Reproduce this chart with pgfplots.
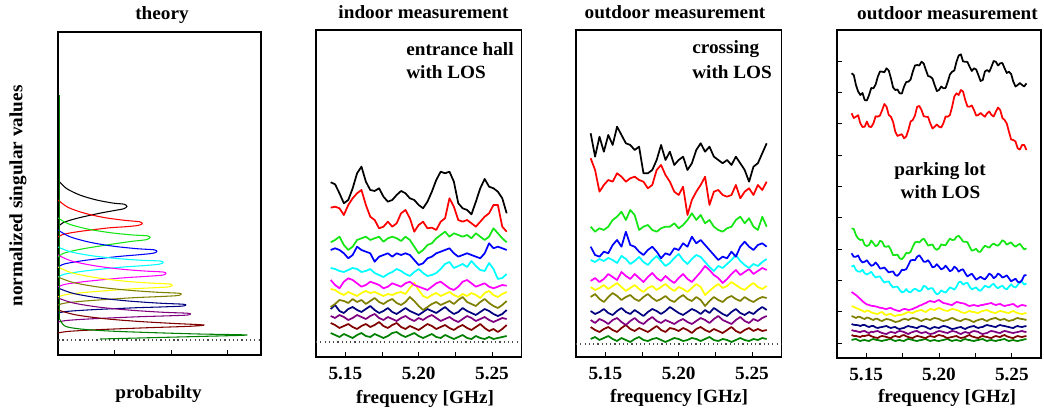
\documentclass[border=0pt]{standalone}
\usepackage{fontspec}
\setmainfont{Liberation Serif}[FakeStretch=1.03]
\usepackage{pgfplots}
\pgfplotsset{compat=1.18}
\usepackage{pgfplotstable}

\definecolor{cK}{RGB}{0,0,0}
\definecolor{cR}{RGB}{255,0,0}
\definecolor{cG}{RGB}{20,230,20}
\definecolor{cB}{RGB}{0,0,255}
\definecolor{cC}{RGB}{0,255,255}
\definecolor{cM}{RGB}{255,0,255}
\definecolor{cY}{RGB}{255,255,0}
\definecolor{cO}{RGB}{128,128,0}
\definecolor{cN}{RGB}{0,0,128}
\definecolor{cP}{RGB}{128,0,128}
\definecolor{cW}{RGB}{128,0,0}
\definecolor{cD}{RGB}{0,128,0}

\newcommand\lbl{\fontsize{14}{16}\selectfont\bfseries}

\pgfplotstableread{
x blk red grn blu cya mag yel oli nav pur mar dgr
5.140 159.7 134.3 99.7 92 74 62 53 35 33 26 19 9
5.143 157.7 135.3 102 93.7 73 57 52 38 37 24 17 7
5.146 148.7 133.7 105.3 92 71 53.7 49 42 31 27 14 5
5.149 138.7 127 97 88.7 70 60.3 47 41 29 25 16 8
5.152 142 137 92 83.7 72 63.7 50 39 33 22 18 6
5.155 153.7 143.7 95.3 87 74 62 48 43 35 24 15 4
5.158 168.7 148.7 102 95.3 73 58.7 46 40 32 27 13 7
5.161 175.3 152 103.7 92 70 55.3 49 42 30 25 16 9
5.164 160.3 137 105.3 90.3 71 57 51 38 33 23 18 6
5.167 152 125.3 102 88.7 73 60.3 49 41 36 26 15 5
5.170 151 122 103.7 80.3 69 58.7 50 44 32 28 17 8
5.173 153.7 113.7 105.3 85.3 67 57 48 40 29 24 20 6
5.176 145.3 115.3 100.3 87 65 53.7 46 38 31 22 16 4
5.179 140.3 120.3 103.7 88.7 68 55.3 48 41 34 25 14 6
5.182 142 115.3 105.3 85.3 70 58.7 47 43 30 23 17 9
5.185 147 118.7 103.7 88.7 73 57 49 39 28 21 19 10
5.188 151 128.7 101 87 71 55.3 50 37 31 24 15 7
5.191 148.7 132 105.3 88.7 68 58.7 48 40 34 26 13 5
5.194 143.7 123.7 102 87 66 60.3 54 45 31 23 16 7
5.197 142 110.3 95.3 82 70 57 59 41 29 21 14 9
5.200 137 117 88.7 77 73 55.3 52 36 27 24 12 6
5.203 133.7 120.3 92 78.7 69 53.7 46 32 30 22 15 4
5.206 140.3 113.7 97 83.7 66 52 44 35 33 25 18 6
5.209 150.3 114.3 98.7 85.3 67 55.3 47 38 31 27 16 8
5.212 162 112 103.7 88.7 69 58.7 49 40 29 24 13 5
5.215 170.3 120.3 107 90.3 73 60.3 46 37 32 21 15 4
5.218 168.7 123.7 110.3 92 78 57 48 39 35 23 17 7
5.221 170.3 143.7 105.3 93.7 80 53.7 50 41 31 25 14 5
5.224 160.3 135.3 108.7 88.7 74 52 47 38 28 22 12 3
5.227 138.7 122 107 85.3 76 55.3 45 42 30 20 15 5
5.230 133.7 120.3 105.3 87 78 60.3 48 45 34 23 17 7
5.233 132 122 107 88.7 75 62 46 40 31 26 14 4
5.236 127.7 118.7 103.7 87 81 58.7 49 38 29 24 12 3
5.239 140.3 115.3 108.7 85.3 76 55.3 47 36 27 21 15 6
5.242 153.7 120.3 105.3 83.7 72 57 44 40 30 23 18 4
5.245 163 125.3 102 88.7 71 58.7 49 43 33 25 14 3
5.248 155.3 128.7 105.3 98.7 79 55.3 51 39 31 22 11 5
5.251 153.7 137 113.7 93.7 73 53.7 47 36 28 20 13 3
5.254 150.3 137 108.7 95.3 63 55.3 45 34 26 22 10 4
5.257 143.7 115.3 103.7 93.7 64 57 48 37 28 24 13 5
5.260 128.7 110.3 99.7 92 68 56.3 50 41 32 23 17 6
}\indoor

\pgfplotstableread{
x blk red grn blu cya mag yel oli nav pur mar dgr
5.140 210.7 185.7 117.3 97.3 84 63 57 47 33 24 17 5
5.143 187.3 174 112.3 89 82 66 54 50 30 21 14 7
5.146 207.3 152.3 115.7 87.3 85 62 56 45 32 25 12 4
5.149 192.3 159 114 92.3 83 65 59 42 35 23 15 6
5.152 209 164 117.3 90.7 86 70 55 47 31 20 17 8
5.155 199 162.3 124 99 84 67 58 51 29 24 14 5
5.158 217.3 170.7 127.3 104 81 64 61 48 33 26 12 3
5.161 209 167.3 132.3 97.3 88 72 57 44 36 22 16 6
5.164 200.7 162.3 124 112.3 85 68 53 47 32 19 19 4
5.167 199 165.7 134 99 80 65 56 49 30 23 15 2
5.170 194 167.3 129 97.3 83 70 59 45 34 26 13 5
5.173 197.3 164 114 92.3 87 66 55 43 31 22 16 7
5.176 170.7 162.3 117.3 89 82 62 52 47 28 20 14 4
5.179 170.7 155.7 119 94 79 67 56 50 32 24 12 3
5.182 174 159 114 97.3 84 71 58 46 35 27 15 5
5.185 184 174 112.3 92.3 88 66 54 43 33 23 18 6
5.188 199 179 115.7 85.7 83 63 57 45 30 21 14 4
5.191 184 169 117.3 90.7 78 68 60 48 33 24 12 2
5.194 192.3 162.3 117.3 89 81 64 56 44 37 22 16 4
5.197 179 152.3 120.7 95.7 86 61 53 42 34 20 15 6
5.200 184 149 115.7 94 90 66 57 46 31 23 13 5
5.203 187.3 157.3 119 100.7 84 70 55 49 29 25 16 3
5.206 174 129 124 97.3 80 65 52 45 32 22 14 4
5.209 180.7 144 130.7 107.3 85 62 56 43 35 20 11 6
5.212 194 152.3 124 100.7 89 67 60 47 33 23 15 5
5.215 200.7 159 129 104 87 72 57 44 30 26 17 3
5.218 192.3 167.3 120.7 99 82 78 49 38 34 24 14 5
5.221 197.3 139 124 94 77 74 53 43 31 21 12 7
5.224 187.3 152.3 117.3 89 73 69 57 47 36 25 15 4
5.227 184 154 114 84 78 66 60 44 33 28 13 3
5.230 180.7 149 112.3 87.3 76 61 56 42 30 24 11 5
5.233 184 147.3 115.7 85.7 80 65 58 46 28 22 14 4
5.236 179 149 117.3 92.3 84 70 62 48 32 20 17 2
5.239 187.3 159 124 87.3 89 74 59 45 35 24 13 4
5.242 180.7 145.7 127.3 97.3 83 69 56 43 31 27 11 6
5.245 174 152.3 120.7 102.3 79 72 54 47 29 23 14 4
5.248 162.3 155.7 125.7 97.3 76 75 58 44 32 21 16 3
5.251 177.3 149 117.3 94 80 70 61 42 30 25 13 5
5.254 180.7 159 114 99 78 73 57 45 34 23 15 4
5.257 190.7 154 127.3 100.7 82 76 55 47 37 26 13 6
5.260 200.7 162.3 117.3 97.3 85 74 58 46 34 28 14 5
}\crossing

\pgfplotstableread{
x blk red grn blu cya mag yel oli nav pur mar dgr
5.140 269.7 229.7 114.7 89.7 76.3 51 37 27 19 13 8 3
5.1415 268 225 114 86.2 77.5 49.5 36.2 26.1 18.2 12.2 7.1 3.6
5.143 258 226.3 108 86.3 73 48 35 25 18 12 7 4
5.1445 251.5 227.8 104.5 87.5 71.5 46 34.3 26.3 17.8 11.2 6.5 2.8
5.146 248 219.7 103 83 71.3 44 33 26 17 11 6 2
5.1475 250 216 103.5 80.5 73.2 41.8 32.3 24.7 17.9 11.8 7.2 2.7
5.149 243 216.3 98 81.3 69.7 40 31 24 18 12 7 3
5.1505 242.5 221.5 97 82.8 68.5 38.6 32.5 25.5 16.8 10.8 7.6 2.4
5.152 248 216.3 98 79.7 69.7 38 32 25 16 10 8 2
5.1535 255 216 102.5 77.2 71.2 37.2 30.6 23.8 16.9 11.2 6.8 3.3
5.155 254.7 219.7 99.7 78 68 37 30 23 17 11 6 4
5.1565 258.5 226.8 96.8 80.5 65.5 36.6 29.3 24.4 15.6 11.7 5.4 3.2
5.158 266.3 226.3 98 78 66.3 36 29 24 15 12 5 3
5.1595 271.5 227.5 102.2 74.5 66.5 35.2 30.4 22.6 15.7 10.8 6.4 2.4
5.161 271.3 233 101.3 74.7 63 35 31 22 16 10 7 2
5.1625 270.8 239 96.5 75.5 60.5 34.3 28.7 23.3 16.6 9.4 6.6 2.8
5.164 274.7 236.3 96.3 73 61.3 34 28 24 17 9 6 3
5.1655 272.5 228 97 70.6 61.5 34.8 28.8 23.6 15.8 10.3 5.3 3.7
5.167 264.7 226.3 93 71.3 58 35 29 23 15 11 5 4
5.1685 255.5 221 87.8 71.5 55.5 33.8 27.6 22 15.7 10.6 6.4 2.8
5.170 253 211.3 88 68 56.3 33 27 21 16 10 7 2
5.1715 253.5 207 88.4 67.2 56.3 32.3 27.8 21.4 14.6 11.3 6.3 2.6
5.173 249.7 208 84.7 69.7 53 32 28 22 14 12 6 3
5.1745 249.5 208.8 83.8 73.2 50.7 33.2 28.3 23.3 14.7 11.6 7.4 2.3
5.176 256.3 204.7 86.3 73 51.3 34 29 24 15 11 8 2
5.1775 261 206.5 90.2 73.8 53.9 33.8 30.2 23.8 16.3 9.8 6.7 3.3
5.179 261.3 213 89.7 78 51.3 33 31 23 17 9 6 4
5.1805 263.5 221.5 91.2 82.6 50.6 33.5 30.4 24.3 16.3 10.3 5.3 3.6
5.182 271.3 223 96.3 83 53 34 30 25 16 11 5 3
5.1835 277.5 227.5 100.6 82.8 54.4 35.2 31.3 24.6 15.3 11.8 6.3 2.4
5.185 278 236.3 101.3 86.3 53 36 32 24 15 12 7 2
5.1865 277.5 237 100.5 87.7 51.6 37.3 32.6 22.8 16.3 10.7 6.6 2.7
5.188 281.3 233 103 84.7 53 38 33 22 17 10 6 3
5.1895 279.5 226.8 104.4 81.3 57.2 39.2 31.7 23.2 16.7 10.5 5.3 3.6
5.191 273 226.3 101.3 81.3 56.3 40 31 24 16 11 5 4
5.1925 267 226 97.4 82.8 53.6 41.3 32.7 23.6 14.8 9.7 6.3 2.8
5.194 266.3 219.7 98 79.7 54.7 42 34 23 14 9 7 2
5.1955 264.5 214.5 98.6 75.6 54.8 41.4 33.6 24.3 15.3 9.4 6.4 2.6
5.197 258 216.3 94.7 76.3 51.3 41 33 25 16 10 6 3
5.1985 252 218.5 93.2 78.8 48.6 42.2 34.3 24.5 15.4 11.3 7.3 2.3
5.200 253 216.3 94.7 76.3 49.7 43 35 24 15 12 8 2
5.2015 256.5 215.5 98.6 73.7 52.7 41.4 34.2 22.7 16.3 11.6 7.4 2.6
5.203 254.7 219.7 98 74.7 51.3 40 33 22 17 11 7 3
5.2045 255 226.5 97.8 77.3 50.4 39.6 32.4 22.6 16.7 10.4 5.7 3.6
5.206 261.3 226.3 101.3 74.7 53 39 32 23 16 10 5 4
5.2075 268.5 228 104.4 71.7 55.6 38.3 33.2 24.3 14.8 11.2 5.6 2.8
5.209 271.3 236.3 103 73 54.7 38 34 25 14 12 6 2
5.2105 272.5 246.5 103.2 76.3 53.3 39.6 33.6 24.2 14.3 11.6 6.6 2.7
5.212 281.3 249.7 106.3 74.7 56.3 41 33 23 15 11 7 3
5.2135 287.5 248 107.2 71.4 60.7 40.6 32.3 22.3 15.6 9.8 5.7 2.4
5.215 288.7 253 104.7 73 61.3 40 31 22 16 9 5 2
5.2165 281.5 251.5 101.4 73.7 58.3 39.7 30.3 23.3 14.8 10.2 5.4 3.3
5.218 281.3 243 101.3 69.7 59.7 39 30 24 14 11 6 4
5.2195 281 236.5 100.8 66.6 60.3 37.7 31.3 23.6 15.3 10.3 7.3 3.2
5.221 276.3 236.3 96.3 68 56.3 37 32 23 16 10 8 3
5.2225 272 237.5 92.3 69.3 53.6 37.6 31.2 21.7 16.6 11.3 6.6 2.3
5.224 274.7 233 93 66.3 54.7 38 31 21 17 12 6 2
5.2255 273.5 227.5 94.2 63.3 55.6 37.3 30.3 22.3 15.7 11.6 5.4 2.7
5.227 268 228 91.3 64.7 53 37 30 23 15 11 5 3
5.2285 262 230 91.3 66.2 52.2 37.8 31.3 23.7 15.8 9.7 6.3 3.6
5.230 263 228 94.7 64.7 54.7 38 32 24 16 9 7 4
5.2315 271.5 226.3 97.2 63.6 57.3 38.7 32.6 22.7 17.3 9.6 6.4 2.8
5.233 273 229.7 96.3 66.3 56.3 39 33 22 18 10 6 2
5.2345 271.2 231.5 95.3 69.4 55.5 39.6 31.7 23.3 17.4 11.3 5.3 2.7
5.236 276.3 228 98 68 58 40 31 24 17 12 5 3
5.2375 282 226.5 99.5 64.8 59.2 38.7 30.3 24.7 16.3 11.6 6.2 2.4
5.239 281.3 231.3 98 66.3 56.3 38 30 25 16 11 7 2
5.2405 277.5 235.5 97.3 69.5 54.8 38.7 31.3 23.8 17.3 10.3 6.4 2.7
5.242 279.7 233 99.7 68 56.3 39 32 23 18 10 6 3
5.2435 280 225 102.8 65.5 57.3 37.8 31.6 23.6 17.3 11.3 7.3 3.6
5.245 274.7 223 101.3 66.3 54.7 37 31 24 17 12 8 4
5.2465 270 219.5 98.3 67.7 53.6 37.6 30.3 22.8 16.4 11.6 6.7 2.8
5.248 271.3 211.3 99.7 64.7 56.3 38 30 22 16 11 6 2
5.2495 269 203.5 100.6 61.7 58.7 38.6 31.3 22.7 15.3 10.4 5.3 2.6
5.251 261.3 203 98 63 56.3 39 32 23 15 10 5 3
5.2525 256.5 201.5 96.3 64.3 55.5 37.4 30.8 24.3 16.3 10.6 6.2 2.3
5.254 258 194.7 98 61.3 58 36 30 25 17 11 7 2
5.2555 260 193.5 99.2 60.4 61.6 37.3 29.3 24.3 16.3 11.6 6.4 2.6
5.257 258 198 96.3 63 61.3 38 29 24 16 12 6 3
5.2585 256.5 198 93.6 67.6 58.3 37.6 29.6 23.6 16.6 11.3 6.6 3.6
5.260 259.7 193 94.7 68 59.7 37 30 23 17 11 7 4
}\parking

\pgfplotsset{
  panel/.style={scale only axis, anchor=south west,
    axis line style={line width=0.9pt},
    tick align=inside, tick style={black, line width=0.7pt},
    major tick length=3.5pt, minor tick length=3.5pt,
    clip=true},
  meas/.style={panel, width=154pt, xmin=5.13, xmax=5.27,
    xtick={5.15,5.20,5.25}, minor xtick={5.175,5.225},
    xticklabels={5.15,5.20,5.25}, xtick pos=bottom,
    xticklabel style={font=\lbl, anchor=base, yshift=-16.5pt},
    every axis plot/.append style={line width=1.3pt, mark=none, line join=round}},
  ref/.style={dash pattern=on 0.9pt off 2.3pt, line width=0.8pt, color=black!70, forget plot}
}

\newcommand\allseries[1]{%
  \addplot[cD] table[x=x,y=dgr]{#1};
  \addplot[cW] table[x=x,y=mar]{#1};
  \addplot[cP] table[x=x,y=pur]{#1};
  \addplot[cN] table[x=x,y=nav]{#1};
  \addplot[cO] table[x=x,y=oli]{#1};
  \addplot[cY] table[x=x,y=yel]{#1};
  \addplot[cM] table[x=x,y=mag]{#1};
  \addplot[cC] table[x=x,y=cya]{#1};
  \addplot[cB] table[x=x,y=blu]{#1};
  \addplot[cG] table[x=x,y=grn]{#1};
  \addplot[cR] table[x=x,y=red]{#1};
  \addplot[cK] table[x=x,y=blk]{#1};
}

\begin{document}
\begin{tikzpicture}
\path[use as bounding box] (0,0) rectangle (783pt,309pt);

% ---------- theory ----------
\begin{axis}[panel, at={(43.5pt,42.75pt)}, width=152.25pt, height=242.25pt,
  xmin=0, xmax=3.593, ymin=-15, ymax=308,
  xtick={1,2,3}, xticklabels={}, xtick pos=bottom, ytick=\empty,
  every axis plot/.append style={line width=0.8pt, mark=none, smooth, tension=0.5}]
\addplot[ref] coordinates {(0,0) (3.593,0)};
\addplot[cK] coordinates {(0,160) (0.146,151.7) (0.390,144.9) (0.683,140.0) (0.976,136.9) (1.17,135.8) (1.22,133.5) (1.16,131.2) (1.0,129.5) (0.732,126.7) (0.329,121.6) (0.085,117.2) (0,113)};
\addplot[cR] coordinates {(0,140) (0.179,132.6) (0.477,126.7) (0.834,122.3) (1.192,119.6) (1.44,118.3) (1.49,116.5) (1.42,114.6) (1.2,113.3) (0.894,112.1) (0.402,108.7) (0.104,105.8) (0,103)};
\addplot[cG] coordinates {(0,122) (0.196,115.9) (0.522,111.0) (0.913,107.4) (1.304,105.1) (1.58,104.2) (1.63,102.5) (1.56,100.3) (1.3,98.6) (0.978,96.0) (0.440,91.2) (0.114,87.0) (0,83)};
\addplot[cB] coordinates {(0,110) (0.21,103.3) (0.56,97.8) (0.98,93.8) (1.4,91.3) (1.70,90.2) (1.75,88.5) (1.68,86.7) (1.4,85.1) (1.05,83.4) (0.473,79.6) (0.123,76.2) (0,73)};
\addplot[cC] coordinates {(0,93) (0.223,88.2) (0.595,84.3) (1.042,81.5) (1.488,79.7) (1.81,79.0) (1.86,77.5) (1.79,75.8) (1.5,74.3) (1.116,72.8) (0.502,69.2) (0.130,66.0) (0,63)};
\addplot[cM] coordinates {(0,85) (0.229,79.2) (0.611,74.6) (1.07,71.1) (1.528,69.0) (1.86,68.0) (1.91,66.5) (1.84,64.8) (1.5,63.4) (1.146,62.1) (0.516,58.7) (0.134,55.8) (0,53)};
\addplot[cY] coordinates {(0,73) (0.242,67.2) (0.646,62.6) (1.131,59.1) (1.616,57.0) (1.97,56.0) (2.02,54.5) (1.94,53.0) (1.6,52.0) (1.212,50.8) (0.545,47.9) (0.141,45.4) (0,43)};
\addplot[cO] coordinates {(0,63) (0.262,57.6) (0.698,53.1) (1.221,49.9) (1.744,47.8) (2.13,46.8) (2.18,45.6) (2.09,44.3) (1.7,43.2) (1.308,42.2) (0.589,39.5) (0.153,37.2) (0,35)};
\addplot[cN] coordinates {(0,52) (0.271,46.6) (0.723,42.1) (1.266,38.9) (1.808,36.8) (2.21,35.8) (2.26,34.7) (2.17,33.8) (1.8,33.0) (1.356,32.2) (0.610,30.3) (0.158,28.6) (0,27)};
\addplot[cP] coordinates {(0,42) (0.281,36.9) (0.749,32.7) (1.31,29.7) (1.872,27.7) (2.29,26.8) (2.34,25.7) (2.25,24.8) (1.85,24.0) (1.404,23.2) (0.632,21.3) (0.164,19.6) (0,18)};
\addplot[cW] coordinates {(0,30) (0.31,25.2) (0.826,21.3) (1.445,18.5) (2.064,16.5) (2.58,15) (2.322,13.7) (1.548,12.2) (0.697,10.3) (0.181,8.6) (0,7)};
\addplot[cD, sharp plot] coordinates {(0.02,245) (0.02,22)};
\addplot[cD] coordinates {(0.02,22) (0.12,14) (0.4,11) (0.9,9) (1.6,7.5) (2.5,6) (3.35,5) (2.6,3.7) (1.7,2.4) (0.74,1)};
\end{axis}

% ---------- indoor ----------
\begin{axis}[meas, at={(237pt,41.25pt)}, height=245.25pt, ymin=-15, ymax=312, ytick=\empty]
\addplot[ref] coordinates {(5.13,0) (5.27,0)};
\allseries{\indoor}
\end{axis}

% ---------- crossing ----------
\begin{axis}[meas, at={(432pt,41.25pt)}, height=245.25pt, ymin=-13, ymax=314, ytick=\empty]
\addplot[ref] coordinates {(5.13,0) (5.27,0)};
\allseries{\crossing}
\end{axis}

% ---------- parking lot ----------
\begin{axis}[meas, at={(627.75pt,40.5pt)}, width=153pt, height=246pt, ymin=-15, ymax=313,
  ytick={0,31.3,62.6,93.9,125.2,156.5,187.8,219.1,250.4,281.7}, yticklabels={},
  ytick pos=left]
\allseries{\parking}
\end{axis}

% ---------- texts ----------
\node[font=\lbl, anchor=base] at (121.5pt,294.75pt) {theory};
\node[font=\lbl, anchor=base] at (317.6pt,295.5pt) {indoor measurement};
\node[font=\lbl, anchor=base] at (506.25pt,295.5pt) {outdoor measurement};
\node[font=\lbl, anchor=base] at (710.6pt,294.75pt) {outdoor measurement};
\node[font=\lbl, anchor=base] at (118.9pt,10.5pt) {probabilty};
\node[font=\lbl, anchor=base] at (318.75pt,6.75pt) {frequency [GHz]};
\node[font=\lbl, anchor=base] at (509.25pt,7.5pt) {frequency [GHz]};
\node[font=\lbl, anchor=base] at (710.25pt,7.5pt) {frequency [GHz]};
\node[font=\lbl, rotate=90] at (13.5pt,162pt) {normalized singular values};
\node[font=\lbl, anchor=base west, inner sep=0pt] at (304.5pt,267.75pt) {entrance hall};
\node[font=\lbl, anchor=base west, inner sep=0pt] at (304.5pt,250.5pt) {with LOS};
\node[font=\lbl, anchor=base west, inner sep=0pt] at (519pt,269.25pt) {crossing};
\node[font=\lbl, anchor=base west, inner sep=0pt] at (519pt,250.5pt) {with LOS};
\node[font=\lbl, anchor=base] at (705pt,177.75pt) {parking lot};
\node[font=\lbl, anchor=base] at (705.4pt,160.5pt) {with LOS};
\end{tikzpicture}
\end{document}
